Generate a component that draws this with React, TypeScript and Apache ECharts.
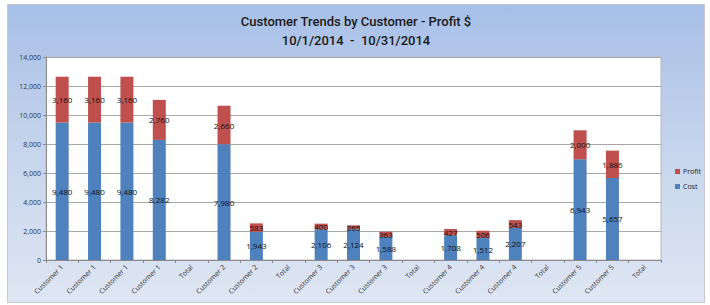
import React, { useEffect, useRef } from "react";
import * as echarts from "echarts";

const categories = [
  "Customer 1", "Customer 1", "Customer 1", "Customer 1", "Total",
  "Customer 2", "Customer 2", "Total",
  "Customer 3", "Customer 3", "Customer 3", "Total",
  "Customer 4", "Customer 4", "Customer 4", "Total",
  "Customer 5", "Customer 5", "Total",
];

const costValues: (number | null)[] = [
  9480, 9480, 9480, 8282, null,
  7980, 1943, null,
  2106, 2124, 1588, null,
  1708, 1512, 2207, null,
  6943, 5657, null,
];

const profitValues: (number | null)[] = [
  3160, 3160, 3160, 2760, null,
  2660, 583, null,
  400, 265, 363, null,
  427, 506, 543, null,
  2000, 1886, null,
];

const titleLines = ["Customer Trends by Customer - Profit $", "10/1/2014  -  10/31/2014"];

const FONT = "'Open Sans', 'Noto Sans', sans-serif";
const TITLE_FONT = "Roboto, 'Open Sans', sans-serif";

export default function App() {
  const ref = useRef<HTMLDivElement>(null);
  useEffect(() => {
    if (!ref.current) return;
    const chart = echarts.init(ref.current, undefined, { renderer: "svg" });
    const labelCfg = {
      show: true,
      position: "inside" as const,
      color: "#111",
      fontSize: 8,
      fontFamily: FONT,
      formatter: (p: any) => (p.value == null ? "" : Number(p.value).toLocaleString("en-US")),
    };
    chart.setOption({
      animation: false,
      backgroundColor: "transparent",
      title: {
        text: titleLines.join("\n"),
        left: "center",
        top: 2,
        textStyle: {
          fontFamily: TITLE_FONT,
          fontSize: 13,
          fontWeight: 500,
          color: "#1a1a1a",
          lineHeight: 19,
        },
      },
      legend: {
        data: ["Profit", "Cost"],
        orient: "vertical",
        left: 662,
        top: 158,
        itemWidth: 5,
        itemHeight: 5,
        itemGap: 8,
        icon: "rect",
        textStyle: { fontFamily: FONT, fontSize: 7, color: "#222", padding: [0, 0, 0, -2] },
      },
      grid: {
        left: 38,
        top: 52,
        right: 43,
        bottom: 42,
        show: true,
        backgroundColor: "#ffffff",
        borderColor: "#b8b8b8",
        borderWidth: 1,
      },
      xAxis: {
        type: "category",
        data: categories,
        axisLine: { lineStyle: { color: "#8a8a8a" } },
        axisTick: { show: true, length: 3, lineStyle: { color: "#8a8a8a" } },
        axisLabel: {
          rotate: 45,
          fontFamily: FONT,
          fontSize: 7,
          color: "#333",
          margin: 6,
          interval: 0,
        },
      },
      yAxis: {
        type: "value",
        min: 0,
        max: 14000,
        interval: 2000,
        axisLine: { show: true, lineStyle: { color: "#8a8a8a" } },
        axisTick: { show: true, length: 3, lineStyle: { color: "#8a8a8a" } },
        splitLine: { lineStyle: { color: "#a8a8a8" } },
        axisLabel: {
          fontFamily: FONT,
          fontSize: 7,
          color: "#333",
          margin: 5,
          formatter: (v: number) => v.toLocaleString("en-US"),
        },
      },
      series: [
        {
          name: "Cost",
          type: "bar",
          stack: "total",
          barWidth: 13,
          data: costValues,
          itemStyle: { color: "#4f81bd" },
          label: labelCfg,
        },
        {
          name: "Profit",
          type: "bar",
          stack: "total",
          barWidth: 13,
          data: profitValues,
          itemStyle: { color: "#c0504d" },
          label: labelCfg,
        },
      ],
    });
    return () => chart.dispose();
  }, []);

  return (
    <div style={{ position: "fixed", left: 0, top: 0, width: 710, height: 305, background: "#ffffff" }}>
      <div
        style={{
          position: "absolute",
          left: 7,
          top: 4,
          width: 698,
          height: 299,
          boxSizing: "border-box",
          border: "1px solid #c4c8d0",
          background: "linear-gradient(180deg, #a7bfe7 0%, #c4d3ec 45%, #dfe6f3 100%)",
        }}
      >
        <div ref={ref} style={{ position: "absolute", left: 0, top: 0, width: 696, height: 297 }} />
      </div>
    </div>
  );
}
